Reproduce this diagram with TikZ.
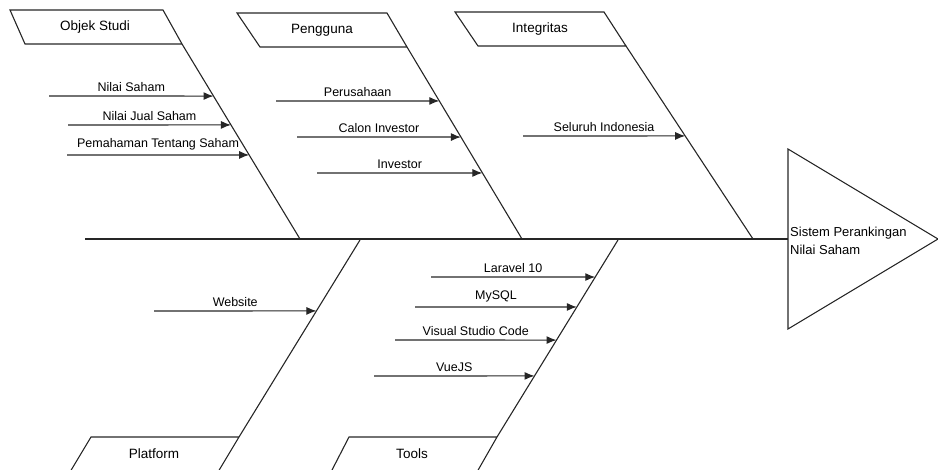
\documentclass[tikz,border=0pt]{standalone}
\usepackage{fontspec}
\setmainfont{Liberation Sans}
\usetikzlibrary{calc,arrows.meta}
\tikzset{
  bone/.style={draw=black!85, line width=1.1pt},
  cause/.style={draw=black!85, line width=1.1pt, -{Latex[length=10pt,width=8pt]}},
  lbl/.style={above=2pt, inner sep=2pt, font=\fontsize{12.5}{14}\selectfont},
  head/.style={inner sep=0pt, font=\fontsize{13.5}{15}\selectfont},
}
\begin{document}
\begin{tikzpicture}[x=1pt,y=-1pt]
        \useasboundingbox (0,0) rectangle (938,470);
        \clip (0,0) rectangle (938,470);
        \coordinate (S1) at (85, 239) {};
        \coordinate (T1) at (788, 149) {};
        \coordinate (T2) at (788, 239) {};
        \coordinate (T3) at (788, 329) {};
        \coordinate (T4) at (938, 239) {};
        \coordinate (O1) at (182, 44) {};
        \coordinate (O2) at (300, 239) {};
        \coordinate (P1) at (407, 47) {};
        \coordinate (P2) at (522, 239) {};
        \coordinate (I1) at (626, 46) {};
        \coordinate (I2) at (753, 239) {};
        \coordinate (W1) at (360, 240) {};
        \coordinate (W2) at (239, 437) {};
        \coordinate (L1) at (618, 240) {};
        \coordinate (L2) at (497, 437) {};
        \draw[bone] (S1)--(T2);
        \draw[bone] (T1)--(T4)--(T3)--cycle;
        \node[anchor=west, align=left, inner sep=2pt, font=\fontsize{13}{18}\selectfont] (eff) at (788, 241) {Sistem Perankingan\\Nilai Saham};
        \draw[bone] (10, 10)--(163, 10)--(O1)--(25, 44)--cycle;
        \node[head] (objek) at (95, 27) {Objek Studi};
        \draw[bone] (O1)--(O2);
        \draw[bone] (237, 13)--(387, 13)--(P1)--(260, 47)--cycle;
        \node[head] (pengguna) at (322, 30) {Pengguna};
        \draw[bone] (P1)--(P2);
        \draw[bone] (455, 12)--(604, 12)--(I1)--(478, 46)--cycle;
        \node[head] (integritas) at (540, 29) {Integritas};
        \draw[bone] (I1)--(I2);
        \draw[bone] (W1)--(W2);
        \draw[bone] (W2)--(91, 437)--(70, 472) (W2)--(218, 472);
        \node[head] (platform) at (154, 454) {Platform};
        \draw[bone] (L1)--(L2);
        \draw[bone] (L2)--(349, 437)--(331, 472) (L2)--(477, 472);
        \node[head] (tools) at (412, 454) {Tools};
        \coordinate (a1) at (49, 96) {};
        \coordinate (a2) at (68, 125) {};
        \coordinate (a3) at (67, 155) {};
        \draw[cause] (a1)--node[lbl] (n1) {Nilai Saham} ($(O1)!0.267!(O2)$);
        \draw[cause] (a2)--node[lbl] (n2) {Nilai Jual Saham} ($(O1)!0.415!(O2)$);
        \draw[cause] (a3)--node[lbl] (n3) {Pemahaman Tentang Saham} ($(O1)!0.569!(O2)$);
        \coordinate (b1) at (276, 101) {};
        \coordinate (b2) at (297, 137) {};
        \coordinate (b3) at (317, 173) {};
        \draw[cause] (b1)--node[lbl] (m1) {Perusahaan} ($(P1)!0.281!(P2)$);
        \draw[cause] (b2)--node[lbl] (m2) {Calon Investor} ($(P1)!0.469!(P2)$);
        \draw[cause] (b3)--node[lbl] (m3) {Investor} ($(P1)!0.656!(P2)$);
        \coordinate (c1) at (523, 136) {};
        \draw[cause] (c1)--node[lbl] (k1) {Seluruh Indonesia} ($(I1)!0.466!(I2)$);
        \coordinate (d1) at (154, 311) {};
        \draw[cause] (d1)--node[lbl] (w1) {Website} ($(W1)!0.36!(W2)$);
        \coordinate (e1) at (431, 277) {};
        \coordinate (e2) at (415, 307) {};
        \coordinate (e3) at (395, 340) {};
        \coordinate (e4) at (374, 376) {};
        \draw[cause] (e1)--node[lbl] (t1) {Laravel 10} ($(L1)!0.188!(L2)$);
        \draw[cause] (e2)--node[lbl] (t2) {MySQL} ($(L1)!0.340!(L2)$);
        \draw[cause] (e3)--node[lbl] (t3) {Visual Studio Code} ($(L1)!0.508!(L2)$);
        \draw[cause] (e4)--node[lbl] (t4) {VueJS} ($(L1)!0.690!(L2)$);
\end{tikzpicture}
\end{document}
